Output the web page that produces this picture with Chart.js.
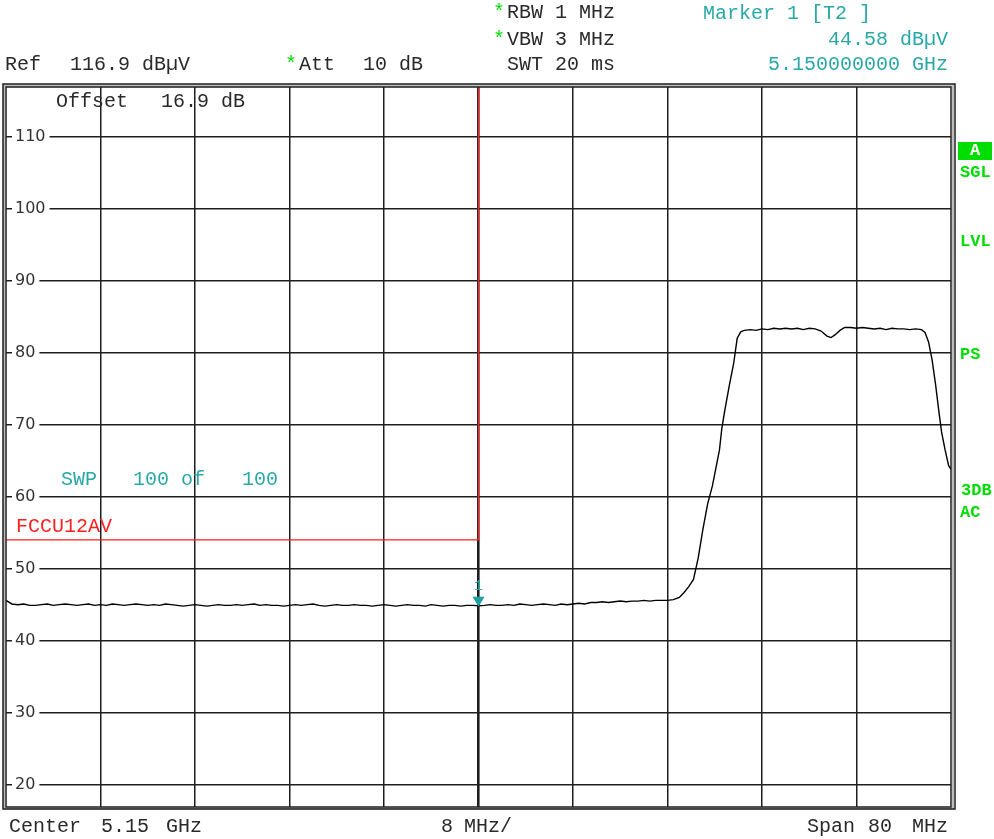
<!DOCTYPE html>
<html>
<head>
<meta charset="utf-8">
<script src="https://cdn.jsdelivr.net/npm/chart.js@4.4.1/dist/chart.umd.min.js"></script>
<style>
  html, body { margin:0; padding:0; background:#fff; }
  #wrap { position:relative; width:994px; height:839px; overflow:hidden; }
  #c { position:absolute; left:0; top:0; }
  .t { position:absolute; font-family:"Liberation Mono", "DejaVu Sans Mono", monospace; font-size:20px; line-height:20px; white-space:pre; color:#2a2a2a; }
  .g { color:#00dd00; }
  .teal { color:#2aa8a8; }
  .red { color:#ff2020; }
  .side { position:absolute; font-family:"Liberation Mono", monospace; font-weight:bold; font-size:17px; line-height:18px; color:#00dd00; white-space:pre; }
  .r { text-align:right; }
</style>
</head>
<body>
<div id="wrap">
  <canvas id="c" width="994" height="839"></canvas>

  <div class="t g" style="left:493px;top:3px">*</div>
  <div class="t" style="left:507px;top:3px">RBW 1 MHz</div>
  <div class="t teal" style="left:703px;top:4px">Marker 1 [T2 ]</div>

  <div class="t g" style="left:493px;top:30px">*</div>
  <div class="t" style="left:507px;top:30px">VBW 3 MHz</div>
  <div class="t teal r" style="right:46px;top:30px">44.58 dBµV</div>

  <div class="t" style="left:5px;top:55px">Ref</div>
  <div class="t" style="left:70px;top:55px">116.9 dBµV</div>
  <div class="t g" style="left:285px;top:55px">*</div>
  <div class="t" style="left:299px;top:55px">Att</div>
  <div class="t" style="left:363px;top:55px">10 dB</div>
  <div class="t" style="left:507px;top:55px">SWT 20 ms</div>
  <div class="t teal r" style="right:46px;top:55px">5.150000000 GHz</div>

  <div class="t" style="left:56px;top:92px">Offset</div>
  <div class="t" style="left:161px;top:92px">16.9 dB</div>
  <div class="t teal" style="left:61px;top:470px">SWP</div>
  <div class="t teal" style="left:133px;top:470px">100 of</div>
  <div class="t teal" style="left:242px;top:470px">100</div>
  <div class="t red" style="left:16px;top:517px">FCCU12AV</div>

  <div class="t" style="left:9px;top:817px">Center</div>
  <div class="t" style="left:101px;top:817px">5.15</div>
  <div class="t" style="left:166px;top:817px">GHz</div>
  <div class="t" style="left:441px;top:817px">8</div>
  <div class="t" style="left:464px;top:817px">MHz/</div>
  <div class="t" style="left:807px;top:817px">Span</div>
  <div class="t" style="left:868px;top:817px">80</div>
  <div class="t" style="left:912px;top:817px">MHz</div>

  <div style="position:absolute;left:958px;top:142px;width:34px;height:18px;background:#00dd00;"></div>
  <div class="side" style="left:958px;top:142px;width:34px;text-align:center;color:#fff">A</div>
  <div class="side" style="left:960px;top:164px">SGL</div>
  <div class="side" style="left:960px;top:233px">LVL</div>
  <div class="side" style="left:960px;top:346px">PS</div>
  <div class="side" style="left:961px;top:482px">3DB</div>
  <div class="side" style="left:960px;top:504px">AC</div>
</div>
<script>
// ---- data ----
const freqStartMHz = 5110;
const freqStopMHz = 5190;
const refLevel = 116.9;
const bottomLevel = 16.9;
const xGridMHz = [5118, 5126, 5134, 5142, 5150, 5158, 5166, 5174, 5182];
const yTicks = [20, 30, 40, 50, 60, 70, 80, 90, 100, 110];

const traceFreqMHz = [
  5110,5110.5,5111,5111.5,5112,5112.5,5113,5113.5,5114,5114.5,
  5115,5115.5,5116,5116.5,5117,5117.5,5118,5118.5,5119,5119.5,
  5120,5120.5,5121,5121.5,5122,5122.5,5123,5123.5,5124,5124.5,
  5125,5125.5,5126,5126.5,5127,5127.5,5128,5128.5,5129,5129.5,
  5130,5130.5,5131,5131.5,5132,5132.5,5133,5133.5,5134,5134.5,
  5135,5135.5,5136,5136.5,5137,5137.5,5138,5138.5,5139,5139.5,
  5140,5140.5,5141,5141.5,5142,5142.5,5143,5143.5,5144,5144.5,
  5145,5145.5,5146,5146.5,5147,5147.5,5148,5148.5,5149,5149.5,
  5150,5150.5,5151,5151.5,5152,5152.5,5153,5153.5,5154,5154.5,
  5155,5155.5,5156,5156.5,5157,5157.5,5158,5158.5,5159,5159.5,
  5160,5160.5,5161,5161.5,5162,5162.5,5163,5163.5,5164,5164.5,
  5165,5165.5,5166,5166.5,5167,5167.4,5167.8,5168.2,5168.6,5169,
  5169.4,5169.8,5170.1,5170.4,5170.6,5170.85,5171.25,5171.6,5171.9,5172.2,
  5172.5,5173,5173.5,5174,5174.5,5175,5175.5,5176,5176.5,5177,
  5177.5,5178,5178.5,5179,5179.5,5179.85,5180.2,5180.6,5181,5181.5,
  5182,5182.5,5183,5183.5,5184,5184.5,5185,5185.5,5186,5186.5,
  5187,5187.5,5187.8,5188.1,5188.4,5188.7,5189,5189.2,5189.5,5189.8,
  5190
];
const traceLevel = [
  45.6,45.1,45.0,45.1,44.9,44.9,45.0,45.1,44.9,45.0,
  45.1,45.0,44.9,45.0,45.1,44.9,45.0,44.9,45.1,45.0,
  44.9,45.0,45.1,45.0,44.9,45.0,44.9,45.1,45.0,44.9,
  44.8,44.9,45.0,44.9,44.8,44.9,45.0,44.9,44.9,45.0,
  44.9,45.0,45.1,44.9,45.0,44.9,44.9,44.8,44.9,45.0,
  44.9,45.0,45.1,44.9,44.8,44.9,45.0,44.9,44.9,45.0,
  44.9,44.9,44.8,44.9,45.0,44.9,44.8,44.9,45.0,44.9,
  44.9,44.8,45.0,44.9,44.8,44.9,44.9,44.8,44.9,44.9,
  44.85,44.9,45.0,44.9,44.9,45.0,44.9,45.1,45.0,44.9,
  45.0,45.1,45.0,44.9,45.1,45.0,45.1,45.2,45.1,45.3,
  45.3,45.4,45.3,45.4,45.5,45.4,45.5,45.5,45.6,45.5,
  45.6,45.6,45.6,45.7,46.0,46.7,47.5,48.5,51.5,55.5,
  59.0,61.5,64.0,66.5,69.5,72.0,75.6,78.5,82.0,82.9,
  83.1,83.2,83.1,83.3,83.2,83.4,83.3,83.4,83.3,83.4,
  83.2,83.4,83.3,83.0,82.3,82.1,82.5,83.1,83.5,83.5,
  83.4,83.5,83.4,83.3,83.4,83.2,83.4,83.3,83.3,83.2,
  83.3,83.2,82.8,81.5,79.0,75.5,71.5,69.0,66.5,64.3,
  63.8
];

// limit line FCCU12AV: 54 dBµV up to 5.15 GHz, then vertical edge
const limitFreqMHz = [5110, 5150, 5150];
const limitLevel = [54, 54, 116.9];

const markerFreqMHz = 5150;
const markerLevel = 44.58;
const markerLabel = "1";

// ---- chart ----
const tracePts = traceFreqMHz.map((f, i) => ({ x: f, y: traceLevel[i] }));
const limitPts = limitFreqMHz.map((f, i) => ({ x: f, y: limitLevel[i] }));

const framePlugin = {
  id: 'frame',
  afterDraw(chart) {
    const { ctx, chartArea: a } = chart;
    ctx.save();
    ctx.strokeStyle = '#bdbdbd';
    ctx.lineWidth = 2;
    ctx.strokeRect(a.left - 2, a.top - 1.5, a.right - a.left + 4, a.bottom - a.top + 3);
    ctx.strokeStyle = '#1e1e1e';
    ctx.lineWidth = 1.5;
    ctx.strokeRect(a.left, a.top, a.right - a.left, a.bottom - a.top);
    ctx.strokeRect(a.left - 3, a.top - 3, a.right - a.left + 7, a.bottom - a.top + 5);
    ctx.restore();
  }
};

const markerPlugin = {
  id: 'marker',
  afterDatasetsDraw(chart) {
    const { ctx, scales } = chart;
    const x = scales.x.getPixelForValue(markerFreqMHz);
    const y = scales.y.getPixelForValue(markerLevel);
    ctx.save();
    ctx.fillStyle = '#1fa0a0';
    ctx.beginPath();
    ctx.moveTo(x - 6, y - 11);
    ctx.lineTo(x + 6, y - 11);
    ctx.lineTo(x, y - 1);
    ctx.closePath();
    ctx.fill();
    ctx.font = '15px "Liberation Mono", monospace';
    ctx.textAlign = 'center';
    ctx.textBaseline = 'middle';
    ctx.fillStyle = '#2aa8a8';
    ctx.fillText(markerLabel, x, y - 22);
    ctx.restore();
  }
};

new Chart(document.getElementById('c'), {
  type: 'scatter',
  data: {
    datasets: [
      { label: 'Trace', data: tracePts, showLine: true, borderColor: '#000', borderWidth: 1.4, pointRadius: 0, tension: 0, order: 1 },
      { label: 'FCCU12AV', data: limitPts, showLine: true, borderColor: '#ff2020', borderWidth: 1.4, pointRadius: 0, tension: 0, order: 2 }
    ]
  },
  options: {
    responsive: false,
    animation: false,
    devicePixelRatio: 1,
    layout: { padding: { left: 6, right: 43, top: 87, bottom: 32 } },
    plugins: { legend: { display: false }, tooltip: { enabled: false } },
    scales: {
      x: {
        type: 'linear', min: freqStartMHz, max: freqStopMHz,
        afterBuildTicks: s => { s.ticks = xGridMHz.map(v => ({ value: v })); },
        afterFit: s => { s.height = 0; },
        ticks: { display: false },
        border: { display: false },
        grid: { color: '#1e1e1e', lineWidth: c => (c.tick && c.tick.value === 5150 ? 2.6 : 1.5), drawTicks: false }
      },
      y: {
        type: 'linear', min: bottomLevel, max: refLevel,
        afterBuildTicks: s => { s.ticks = yTicks.map(v => ({ value: v })); },
        afterFit: s => { s.width = 0; },
        border: { display: false },
        grid: { color: '#1e1e1e', lineWidth: 1.5, drawTicks: false },
        ticks: {
          mirror: true, padding: 9,
          color: '#333',
          font: { family: '"DejaVu Sans", sans-serif', size: 16 },
          showLabelBackdrop: true, backdropColor: '#fff',
          backdropPadding: { left: 3, right: 4, top: 0, bottom: 0 },
          callback: v => String(v)
        }
      }
    }
  },
  plugins: [framePlugin, markerPlugin]
});
</script>
</body>
</html>
